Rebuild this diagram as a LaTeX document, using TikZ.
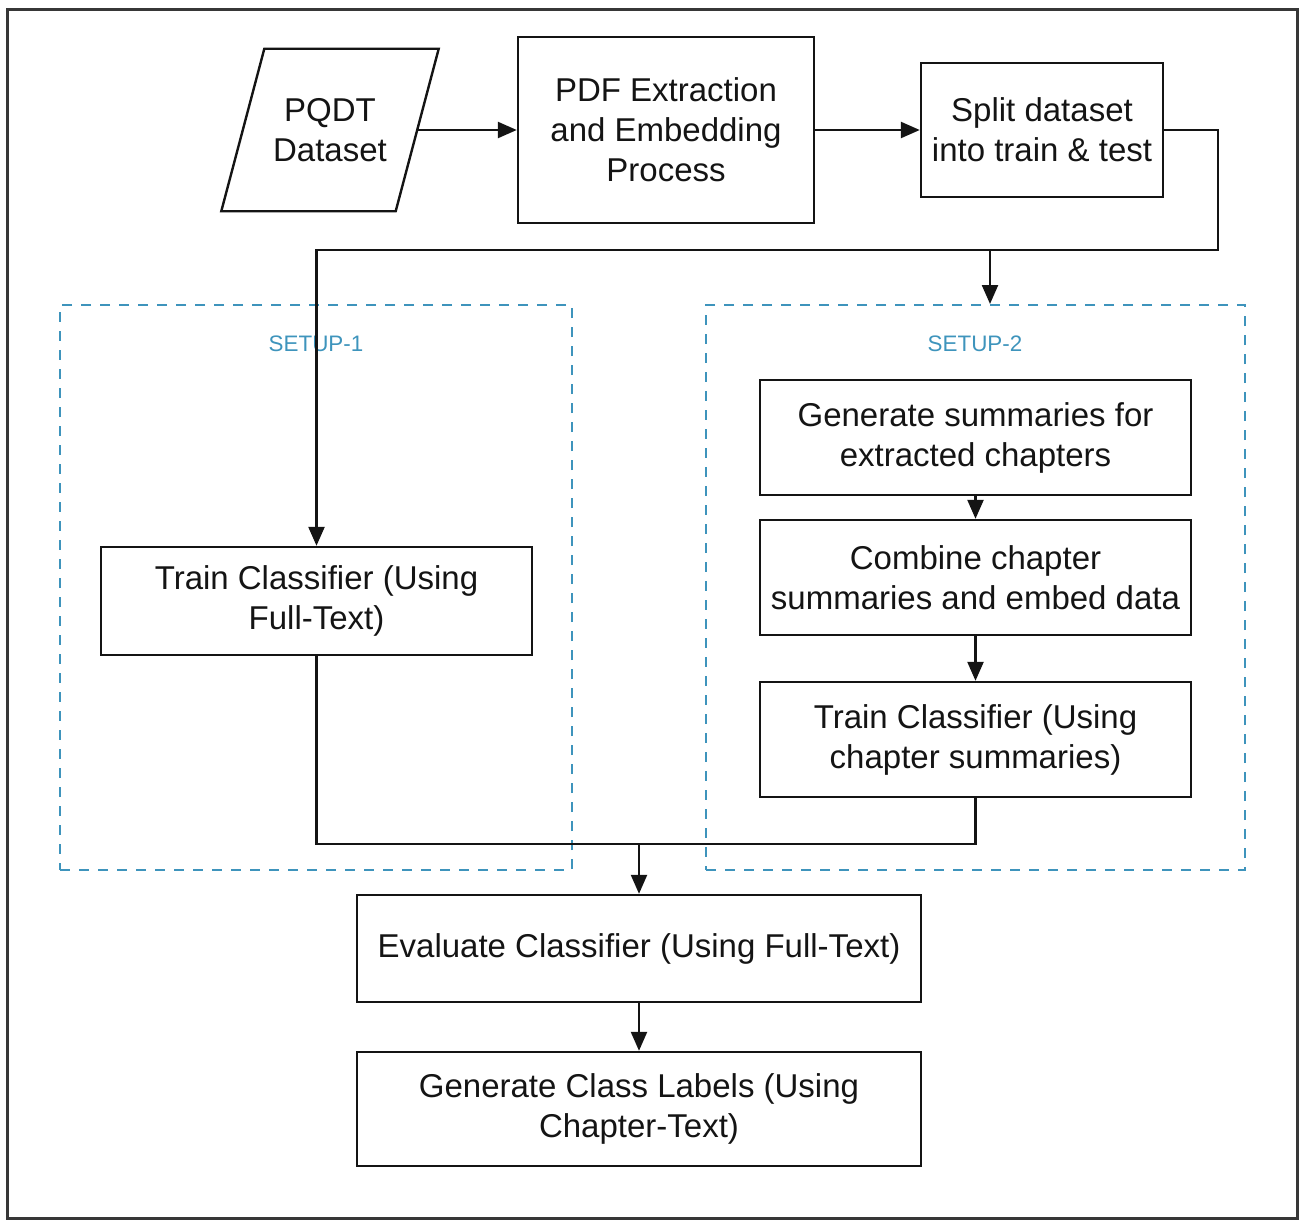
\documentclass[tikz,border=0pt]{standalone}
\usepackage{fontspec}
\setmainfont{Liberation Sans}
\usetikzlibrary{arrows.meta,shapes.geometric}
\definecolor{setupblue}{RGB}{62,148,188}
\definecolor{ink}{RGB}{20,20,20}
\tikzset{
  box/.style={draw=ink,line width=1.2pt,rectangle,align=center,inner sep=0pt,
    text=ink,font=\fontsize{16.5}{20}\selectfont},
  setupbox/.style={draw=setupblue,line width=1pt,dash pattern=on 5pt off 4.5pt,rectangle,inner sep=0pt},
  setuplabel/.style={text=setupblue,font=\fontsize{11.2}{13}\selectfont,inner sep=0pt},
  arr/.style={draw=ink,line width=1.2pt,-{Triangle[length=9.5pt,width=8pt]}},
  conn/.style={draw=ink,line width=1.2pt},
}
\begin{document}
\begin{tikzpicture}[x=0.5pt,y=-0.5pt]
\useasboundingbox (0,0) rectangle (1305,1220);
\draw[line width=1.5pt,draw=ink!85] (7,10) rectangle (1297,1218);

\node[box,draw=none,minimum width=86pt,minimum height=80pt] (pqdt) at (330,130) {PQDT\\Dataset};
\draw[conn] ([xshift=10.75pt]pqdt.north west) -- ([xshift=10.75pt]pqdt.north east)
  -- ([xshift=-10.75pt]pqdt.south east) -- ([xshift=-10.75pt]pqdt.south west) -- cycle;
\node[box,minimum width=148pt,minimum height=93pt] (pdf) at (666,130) {PDF Extraction\\and Embedding\\Process};
\node[box,minimum width=121pt,minimum height=67pt] (split) at (1042,130) {Split dataset\\into train \& test};

\node[setupbox,minimum width=256pt,minimum height=282.5pt] (s1) at (316,587.5) {};
\node[setupbox,minimum width=269.5pt,minimum height=282.5pt] (s2) at (975.5,587.5) {};
\node[setuplabel] (l1) at (316,344) {SETUP-1};
\node[setuplabel] (l2) at (975,344) {SETUP-2};

\node[box,minimum width=215.5pt,minimum height=54pt] (tc1) at (316.5,601) {Train Classifier (Using\\Full-Text)};
\node[box,minimum width=215.5pt,minimum height=57.5pt] (gs) at (975.5,437.5) {Generate summaries for\\extracted chapters};
\node[box,minimum width=215.5pt,minimum height=57.5pt] (cb) at (975.5,577.5) {Combine chapter\\summaries and embed data};
\node[box,minimum width=215.5pt,minimum height=57.5pt] (tc2) at (975.5,739.5) {Train Classifier (Using\\chapter summaries)};
\node[box,minimum width=282pt,minimum height=53.5pt] (ev) at (639,948.5) {Evaluate Classifier (Using Full-Text)};
\node[box,minimum width=282pt,minimum height=57pt] (gl) at (639,1109) {Generate Class Labels (Using\\Chapter-Text)};

\coordinate (jr) at (1218,250);
\coordinate (jb) at (990,250);
\coordinate (m) at (639,844);

\draw[arr] (pqdt.east) -- (pdf.west);
\draw[arr] (pdf.east) -- (split.west);
\draw[arr] (split.east) -| (jr) -| (tc1.north);
\draw[arr] (jb) -- (jb |- s2.north);
\draw[arr] (gs) -- (cb);
\draw[arr] (cb) -- (tc2);
\draw[conn] (tc1.south) |- (m);
\draw[conn] (tc2.south) |- (m);
\draw[arr] (m) -- (ev.north);
\draw[arr] (ev) -- (gl);
\end{tikzpicture}
\end{document}
